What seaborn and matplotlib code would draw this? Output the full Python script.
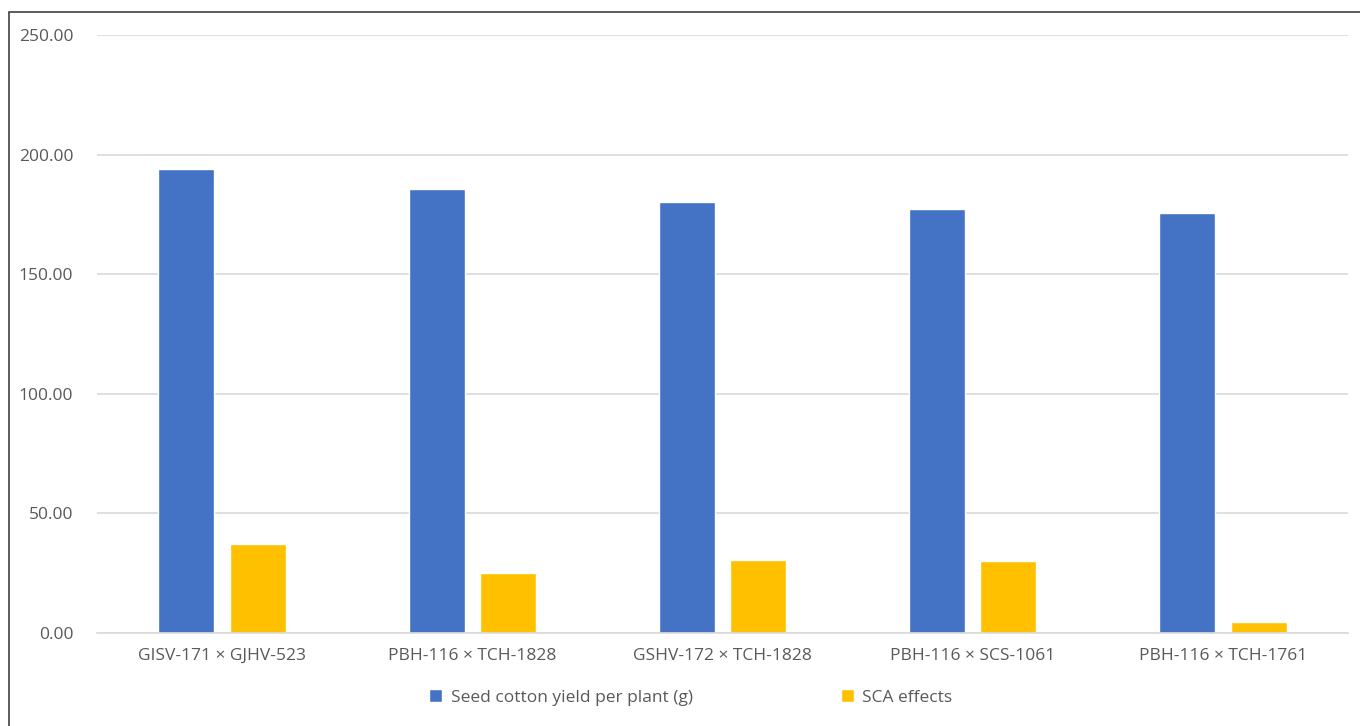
import matplotlib
matplotlib.use("Agg")
import matplotlib.pyplot as plt
import seaborn as sns
import pandas as pd
from matplotlib.patches import Rectangle
from matplotlib.ticker import FormatStrFormatter

categories = ["GISV-171 × GJHV-523", "PBH-116 × TCH-1828", "GSHV-172 × TCH-1828",
              "PBH-116 × SCS-1061", "PBH-116 × TCH-1761"]
yield_values = [194.1, 185.7, 180.3, 177.3, 175.4]
sca_values = [37.3, 25.1, 30.5, 30.1, 4.6]
series_names = ["Seed cotton yield per plant (g)", "SCA effects"]
colors = ["#4472C4", "#FFC000"]

df = pd.DataFrame({
    "Cross": categories * 2,
    "Value": yield_values + sca_values,
    "Series": [series_names[0]] * len(categories) + [series_names[1]] * len(categories),
})

sns.set_theme(style="white")
plt.rcParams["font.family"] = ["Open Sans", "DejaVu Sans"]

fig = plt.figure(figsize=(13.6, 7.26), dpi=100)
ax = fig.add_axes([97 / 1360, 1 - 633 / 726, (1348 - 97) / 1360, (633 - 35) / 726])

sns.barplot(data=df, x="Cross", y="Value", hue="Series", palette=colors,
            width=0.572, gap=0.217, ax=ax, legend=True, saturation=1)

ax.set_ylim(0, 250)
ax.set_yticks([0, 50, 100, 150, 200, 250])
ax.yaxis.set_major_formatter(FormatStrFormatter("%.2f"))
ax.set_xlabel("")
ax.set_ylabel("")
ax.grid(axis="y", color="#d9d9d9", linewidth=1.2)
ax.set_axisbelow(True)
for s in ["top", "right", "left"]:
    ax.spines[s].set_visible(False)
ax.spines["bottom"].set_color("#d9d9d9")
ax.spines["bottom"].set_linewidth(1.2)
ax.tick_params(axis="both", length=0, colors="#595959", labelsize=12.5)
ax.tick_params(axis="x", pad=11)
ax.tick_params(axis="y", pad=17)

handles, labels = ax.get_legend_handles_labels()
ax.get_legend().remove()
fig.legend(handles, labels, loc="center", bbox_to_anchor=(0.508, 0.039), ncol=2,
           frameon=False, fontsize=12.5, labelcolor="#595959", handlelength=0.75,
           handleheight=0.75, columnspacing=8.5, handletextpad=0.5)

fig.patches.append(Rectangle((9 / 1360, -0.1), 1.2, 1 - 12 / 726 + 0.1,
                             transform=fig.transFigure, fill=False,
                             edgecolor="#404040", linewidth=1.2))

fig.savefig("out.png", dpi=100)
